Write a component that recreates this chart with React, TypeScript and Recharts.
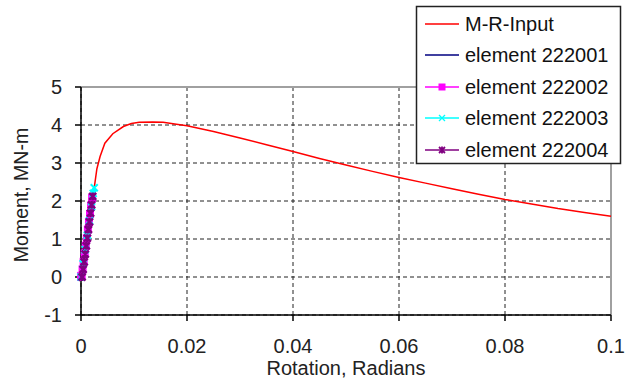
import React from 'react';
import { LineChart, Line, XAxis, YAxis, CartesianGrid, ReferenceLine, Label } from 'recharts';

const xTicks = [0, 0.02, 0.04, 0.06, 0.08, 0.1];
const yTicks = [-1, 0, 1, 2, 3, 4, 5];

const seriesNames = ['M-R-Input', 'element 222001', 'element 222002', 'element 222003', 'element 222004'];

const mrRotation = [0, 0.0026, 0.003, 0.0036, 0.0045, 0.006, 0.008, 0.0095, 0.011, 0.0135, 0.0155, 0.018, 0.02, 0.025, 0.03, 0.035, 0.04, 0.045, 0.05, 0.055, 0.06, 0.065, 0.07, 0.075, 0.08, 0.085, 0.09, 0.095, 0.1];
const mrMoment = [0, 2.45, 2.85, 3.17, 3.52, 3.77, 3.96, 4.04, 4.07, 4.08, 4.07, 4.02, 3.98, 3.83, 3.66, 3.48, 3.3, 3.12, 2.95, 2.78, 2.62, 2.47, 2.32, 2.18, 2.04, 1.92, 1.8, 1.7, 1.6];

const e1Rotation = [0, 0.0005, 0.001, 0.0015, 0.002, 0.0024];
const e1Moment = [0, 0.45, 0.92, 1.38, 1.85, 2.25];

const e2Rotation = [0, 0.00005, 0.0001, 0.0003, 0.0005, 0.0007, 0.0009, 0.0011, 0.0013, 0.0015, 0.0017, 0.0019, 0.0021];
const e2Moment = [0, 0.03, 0.02, 0.2, 0.4, 0.62, 0.82, 1.02, 1.25, 1.45, 1.66, 1.88, 2.08];

const e3Rotation = [0, 0.0004, 0.0008, 0.0012, 0.0016, 0.002, 0.0023, 0.0025];
const e3Moment = [0, 0.35, 0.72, 1.1, 1.48, 1.85, 2.2, 2.35];

const e4Rotation = [0.0002, 0.0004, 0.0006, 0.0008, 0.001, 0.0012, 0.0014, 0.0016, 0.0018, 0.002, 0.0022];
const e4Moment = [0, 0.2, 0.4, 0.6, 0.82, 1.02, 1.25, 1.45, 1.68, 1.9, 2.12];

const toPoints = (xs: number[], ys: number[]) => xs.map((x, i) => ({ x, y: ys[i] }));

const mrData = toPoints(mrRotation, mrMoment);
const e1Data = toPoints(e1Rotation, e1Moment);
const e2Data = toPoints(e2Rotation, e2Moment);
const e3Data = toPoints(e3Rotation, e3Moment);
const e4Data = toPoints(e4Rotation, e4Moment);

const colors = ['#FF0000', '#000080', '#FF00FF', '#00FFFF', '#800080'];

const FONT = '"Liberation Sans", Arial, sans-serif';

const SquareDot = (p: any) => {
  if (p.cx == null || p.cy == null) return <g key={`s${p.index}`} />;
  return <rect key={`s${p.index}`} x={p.cx - 4} y={p.cy - 4} width={8} height={8} fill={colors[2]} />;
};
const CrossDot = (p: any) => {
  if (p.cx == null || p.cy == null) return <g key={`c${p.index}`} />;
  const { cx, cy } = p;
  return (
    <path key={`c${p.index}`} d={`M${cx - 3.5},${cy - 3.5}L${cx + 3.5},${cy + 3.5}M${cx - 3.5},${cy + 3.5}L${cx + 3.5},${cy - 3.5}`} stroke={colors[3]} strokeWidth={2} fill="none" />
  );
};
const StarDot = (p: any) => {
  if (p.cx == null || p.cy == null) return <g key={`t${p.index}`} />;
  const { cx, cy } = p;
  return (
    <path key={`t${p.index}`} d={`M${cx - 3.5},${cy - 3.5}L${cx + 3.5},${cy + 3.5}M${cx - 3.5},${cy + 3.5}L${cx + 3.5},${cy - 3.5}M${cx},${cy - 4}L${cx},${cy + 4}`} stroke={colors[4]} strokeWidth={2.5} fill="none" />
  );
};

const XTitle = () => (
  <text x={346} y={375} textAnchor="middle" fontSize={20} fontFamily={FONT} fill="#222">Rotation, Radians</text>
);
const YTitle = () => (
  <text x={0} y={0} transform="translate(28,195) rotate(-90)" textAnchor="middle" fontSize={19.5} fontFamily={FONT} fill="#222">Moment, MN-m</text>
);

const legendRows = [24, 55, 87, 118, 150];

const LegendIcon = ({ i, y }: { i: number; y: number }) => {
  const c = colors[i];
  const cx = 442;
  return (
    <g>
      <line x1={425} x2={459} y1={y} y2={y} stroke={c} strokeWidth={1.5} />
      {i === 2 && <rect x={cx - 3.5} y={y - 3.5} width={7} height={7} fill={c} />}
      {i === 3 && <path d={`M${cx - 3},${y - 3}L${cx + 3},${y + 3}M${cx - 3},${y + 3}L${cx + 3},${y - 3}`} stroke={c} strokeWidth={1.3} />}
      {i === 4 && <path d={`M${cx - 3},${y - 3}L${cx + 3},${y + 3}M${cx - 3},${y + 3}L${cx + 3},${y - 3}M${cx},${y - 3.5}L${cx},${y + 3.5}`} stroke={c} strokeWidth={1.8} />}
    </g>
  );
};

export default function App() {
  return (
    <div style={{ position: 'absolute', left: 0, top: 0, width: 632, height: 381, background: '#fff', fontFamily: FONT }}>
      <LineChart width={632} height={381} margin={{ top: 87, right: 21, bottom: 0, left: 0 }}>
        <CartesianGrid stroke="#222" strokeDasharray="4 3" strokeWidth={1} />
        <XAxis
          type="number"
          dataKey="x"
          domain={[0, 0.1]}
          ticks={xTicks}
          tickFormatter={(v: number) => String(v)}
          height={66}
          axisLine={{ stroke: '#000', strokeWidth: 1.5 }}
          tickLine={{ stroke: '#000', strokeWidth: 1.5 }}
          tickSize={6}
          tickMargin={18}
          tick={{ fontSize: 20, fill: '#222', fontFamily: FONT }}
          interval={0}
        >
          <Label content={<XTitle />} />
        </XAxis>
        <YAxis
          type="number"
          dataKey="y"
          domain={[-1, 5]}
          ticks={yTicks}
          width={81}
          axisLine={{ stroke: '#000', strokeWidth: 1.5 }}
          tickLine={{ stroke: '#000', strokeWidth: 1.5 }}
          tickSize={6}
          tickMargin={13}
          tick={{ fontSize: 20, fill: '#222', fontFamily: FONT }}
          interval={0}
        >
          <Label content={<YTitle />} />
        </YAxis>
        <ReferenceLine y={5} stroke="#a0a0a0" strokeWidth={2} />
        <ReferenceLine x={0.1} stroke="#a0a0a0" strokeWidth={2} />
        <Line name={seriesNames[0]} data={mrData} dataKey="y" type="linear" stroke={colors[0]} strokeWidth={1.5} dot={false} isAnimationActive={false} />
        <Line name={seriesNames[1]} data={e1Data} dataKey="y" type="linear" stroke={colors[1]} strokeWidth={1.5} dot={false} isAnimationActive={false} />
        <Line name={seriesNames[2]} data={e2Data} dataKey="y" type="linear" stroke={colors[2]} strokeWidth={3} dot={SquareDot} isAnimationActive={false} />
        <Line name={seriesNames[3]} data={e3Data} dataKey="y" type="linear" stroke={colors[3]} strokeWidth={3} dot={CrossDot} isAnimationActive={false} />
        <Line name={seriesNames[4]} data={e4Data} dataKey="y" type="linear" stroke={colors[4]} strokeWidth={5} dot={StarDot} isAnimationActive={false} />
      </LineChart>
      <svg width={632} height={381} style={{ position: 'absolute', left: 0, top: 0, pointerEvents: 'none' }}>
        <rect x={416.5} y={6.5} width={204} height={157} fill="#fff" stroke="#222" strokeWidth={1.5} />
        {seriesNames.map((n, i) => (
          <g key={n}>
            <LegendIcon i={i} y={legendRows[i]} />
            <text x={465} y={legendRows[i] + 7} fontSize={20} fontFamily={FONT} fill="#111">{n}</text>
          </g>
        ))}
      </svg>
    </div>
  );
}
